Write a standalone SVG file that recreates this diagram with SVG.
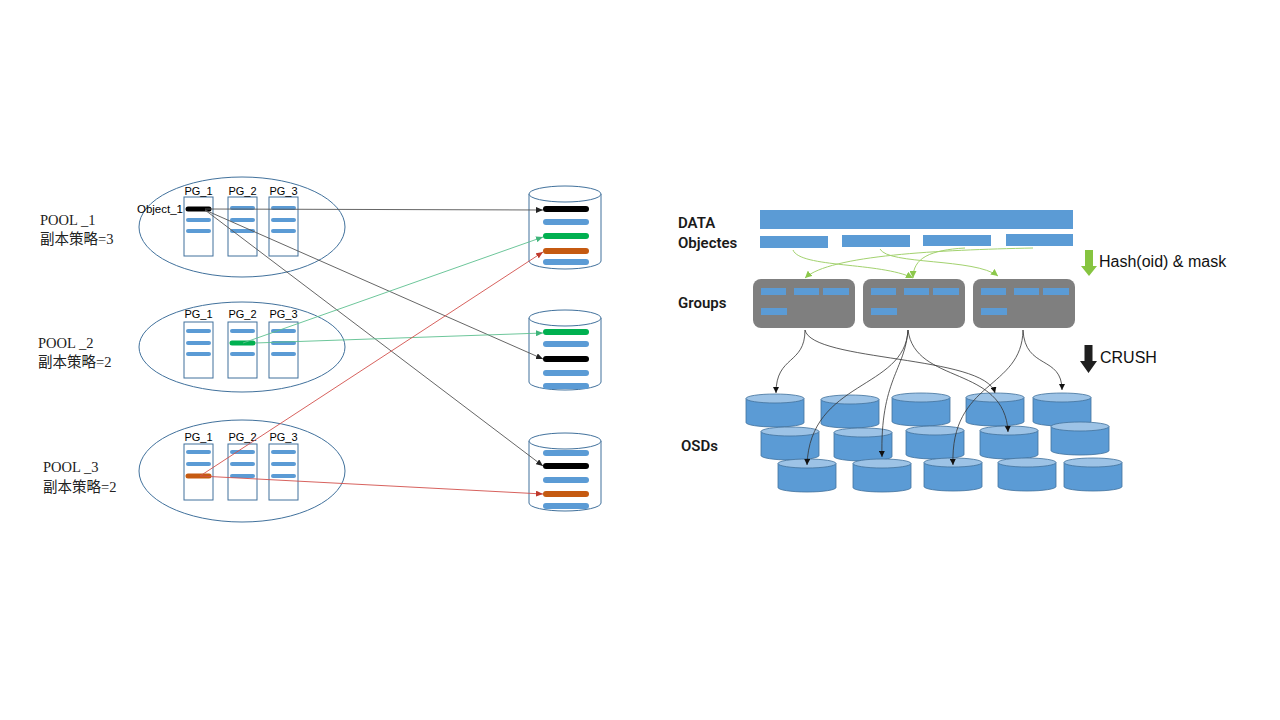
<svg xmlns="http://www.w3.org/2000/svg" width="1280" height="720" viewBox="0 0 1280 720">
<defs>
<style>
.pool{fill:none;stroke:#41719c;stroke-width:1}
.pg{fill:#fff;stroke:#41719c;stroke-width:1}
.bar{stroke:#5b9bd5;stroke-width:4;stroke-linecap:round}
.cbar{stroke:#5b9bd5;stroke-width:6;stroke-linecap:round}
.cyl{fill:#fff;stroke:#41719c;stroke-width:1}
.pglbl{font-family:"Liberation Sans",Arial,sans-serif;font-size:11px;fill:#000;text-anchor:middle}
.poollbl{font-family:"Liberation Serif","Noto Sans CJK SC",serif;font-size:14.5px;fill:#222}
.hd{font-family:Roboto,"Liberation Sans",sans-serif;font-size:15px;font-weight:600;fill:#1a1a1a}
.note{font-family:"Liberation Sans",Arial,sans-serif;font-size:16px;fill:#111}
.blk{fill:none;stroke:#555;stroke-width:0.9}
.grn{fill:none;stroke:#5cc08e;stroke-width:0.9}
.red{fill:none;stroke:#d2504c;stroke-width:0.9}
.hash{fill:none;stroke:#a3d26f;stroke-width:1}
.crush{fill:none;stroke:#333;stroke-width:0.8}
.dblue{fill:#5b9bd5}
.grp{fill:#7f7f7f}
.osdbody{fill:#5b9bd5;stroke:#41719c;stroke-width:0.8}
.osdtop{fill:#9dc3e6;stroke:#41719c;stroke-width:0.8}
</style>
<marker id="mBlk" markerUnits="userSpaceOnUse" markerWidth="8" markerHeight="6" refX="7" refY="3" orient="auto"><path d="M0,0 L7,3 L0,6 Z" fill="#222"/></marker>
<marker id="mGrn" markerUnits="userSpaceOnUse" markerWidth="8" markerHeight="6" refX="7" refY="3" orient="auto"><path d="M0,0 L7,3 L0,6 Z" fill="#3fb57a"/></marker>
<marker id="mRed" markerUnits="userSpaceOnUse" markerWidth="8" markerHeight="6" refX="7" refY="3" orient="auto"><path d="M0,0 L7,3 L0,6 Z" fill="#c0392b"/></marker>
<marker id="mHash" markerUnits="userSpaceOnUse" markerWidth="8" markerHeight="7" refX="7" refY="3.5" orient="auto"><path d="M0,0 L7,3.5 L0,7 Z" fill="#8cc84b"/></marker>
<marker id="mCrush" markerUnits="userSpaceOnUse" markerWidth="7" markerHeight="6" refX="6" refY="3" orient="auto"><path d="M0,0 L6,3 L0,6 Z" fill="#111"/></marker>
<g id="osd">
<path class="osdbody" d="M0,4.5 V28.5 A29,4.5 0 0 0 58,28.5 V4.5 Z"/>
<ellipse class="osdtop" cx="29" cy="4.5" rx="29" ry="4.5"/>
</g>
</defs>
<rect width="1280" height="720" fill="#fff"/>

<!-- Pool 1 -->
<g id="pool1">
<ellipse class="pool" cx="242" cy="227" rx="103" ry="50"/>
<text class="poollbl" x="40" y="225">POOL _1</text>
<text class="poollbl" x="40" y="244">副本策略=3</text>
<rect class="pg" x="184" y="197" width="29" height="59"/>
<rect class="pg" x="228" y="197" width="29" height="59"/>
<rect class="pg" x="269" y="197" width="29" height="59"/>
<text class="pglbl" x="198.5" y="195">PG_1</text>
<text class="pglbl" x="242.5" y="195">PG_2</text>
<text class="pglbl" x="283.5" y="195">PG_3</text>
<line x1="188" y1="209" x2="209" y2="209" stroke="#000" stroke-width="5" stroke-linecap="round"/>
<line class="bar" x1="188" y1="220" x2="209" y2="220"/>
<line class="bar" x1="188" y1="231" x2="209" y2="231"/>
<line class="bar" x1="232" y1="208" x2="253" y2="208"/>
<line class="bar" x1="232" y1="220" x2="253" y2="220"/>
<line class="bar" x1="232" y1="231" x2="253" y2="231"/>
<line class="bar" x1="273" y1="208" x2="294" y2="208"/>
<line class="bar" x1="273" y1="220" x2="294" y2="220"/>
<line class="bar" x1="273" y1="231" x2="294" y2="231"/>
<text x="183" y="212.5" text-anchor="end" font-family="Liberation Sans, Arial, sans-serif" font-size="11.5" fill="#000">Object_1</text>
</g>

<!-- Pool 2 -->
<g id="pool2">
<ellipse class="pool" cx="242" cy="347" rx="103" ry="45"/>
<text class="poollbl" x="38" y="348">POOL _2</text>
<text class="poollbl" x="38" y="367">副本策略=2</text>
<rect class="pg" x="184" y="322" width="29" height="56"/>
<rect class="pg" x="228" y="322" width="29" height="56"/>
<rect class="pg" x="269" y="322" width="29" height="56"/>
<text class="pglbl" x="198.5" y="318">PG_1</text>
<text class="pglbl" x="242.5" y="318">PG_2</text>
<text class="pglbl" x="283.5" y="318">PG_3</text>
<line class="bar" x1="188" y1="331" x2="209" y2="331"/>
<line class="bar" x1="188" y1="343" x2="209" y2="343"/>
<line class="bar" x1="188" y1="354" x2="209" y2="354"/>
<line class="bar" x1="232" y1="331" x2="253" y2="331"/>
<line x1="232" y1="343" x2="253" y2="343" stroke="#00b050" stroke-width="5" stroke-linecap="round"/>
<line class="bar" x1="232" y1="354" x2="253" y2="354"/>
<line class="bar" x1="273" y1="331" x2="294" y2="331"/>
<line class="bar" x1="273" y1="343" x2="294" y2="343"/>
<line class="bar" x1="273" y1="354" x2="294" y2="354"/>
</g>

<!-- Pool 3 -->
<g id="pool3">
<ellipse class="pool" cx="242" cy="471" rx="103" ry="51"/>
<text class="poollbl" x="43" y="472">POOL _3</text>
<text class="poollbl" x="43" y="492">副本策略=2</text>
<rect class="pg" x="184" y="444" width="29" height="56"/>
<rect class="pg" x="228" y="444" width="29" height="56"/>
<rect class="pg" x="269" y="444" width="29" height="56"/>
<text class="pglbl" x="198.5" y="441">PG_1</text>
<text class="pglbl" x="242.5" y="441">PG_2</text>
<text class="pglbl" x="283.5" y="441">PG_3</text>
<line class="bar" x1="188" y1="452" x2="209" y2="452"/>
<line class="bar" x1="188" y1="464" x2="209" y2="464"/>
<line x1="188" y1="476" x2="209" y2="476" stroke="#c55a11" stroke-width="5" stroke-linecap="round"/>
<line class="bar" x1="232" y1="452" x2="253" y2="452"/>
<line class="bar" x1="232" y1="464" x2="253" y2="464"/>
<line class="bar" x1="232" y1="476" x2="253" y2="476"/>
<line class="bar" x1="273" y1="452" x2="294" y2="452"/>
<line class="bar" x1="273" y1="464" x2="294" y2="464"/>
<line class="bar" x1="273" y1="476" x2="294" y2="476"/>
</g>

<!-- Storage cylinders -->
<g id="disk1">
<path class="cyl" d="M529,194 V261 A36,8 0 0 0 601,261 V194"/>
<ellipse class="cyl" cx="565" cy="194" rx="36" ry="8"/>
<line x1="546" y1="209" x2="586" y2="209" stroke="#000" stroke-width="6" stroke-linecap="round"/>
<line class="cbar" x1="546" y1="222" x2="586" y2="222"/>
<line x1="546" y1="236" x2="586" y2="236" stroke="#00b050" stroke-width="6" stroke-linecap="round"/>
<line x1="546" y1="251" x2="586" y2="251" stroke="#c55a11" stroke-width="6" stroke-linecap="round"/>
<line class="cbar" x1="546" y1="262" x2="586" y2="262"/>
</g>
<g id="disk2">
<path class="cyl" d="M529,318 V382 A36,8 0 0 0 601,382 V318"/>
<ellipse class="cyl" cx="565" cy="318" rx="36" ry="8"/>
<line x1="546" y1="332" x2="586" y2="332" stroke="#00b050" stroke-width="6" stroke-linecap="round"/>
<line class="cbar" x1="546" y1="344" x2="586" y2="344"/>
<line x1="546" y1="359" x2="586" y2="359" stroke="#000" stroke-width="6" stroke-linecap="round"/>
<line class="cbar" x1="546" y1="373" x2="586" y2="373"/>
<line class="cbar" x1="546" y1="386" x2="586" y2="386"/>
</g>
<g id="disk3">
<path class="cyl" d="M529,441 V503 A36,8 0 0 0 601,503 V441"/>
<ellipse class="cyl" cx="565" cy="441" rx="36" ry="8"/>
<line class="cbar" x1="546" y1="453" x2="586" y2="453"/>
<line x1="546" y1="466" x2="586" y2="466" stroke="#000" stroke-width="6" stroke-linecap="round"/>
<line class="cbar" x1="546" y1="480" x2="586" y2="480"/>
<line x1="546" y1="494" x2="586" y2="494" stroke="#c55a11" stroke-width="6" stroke-linecap="round"/>
<line class="cbar" x1="546" y1="506" x2="586" y2="506"/>
</g>

<!-- Left connectors -->
<g id="left-connectors">
<line class="blk" x1="205" y1="209" x2="543" y2="210" marker-end="url(#mBlk)"/>
<line class="blk" x1="205" y1="210" x2="543" y2="359" marker-end="url(#mBlk)"/>
<line class="blk" x1="205" y1="210" x2="543" y2="466" marker-end="url(#mBlk)"/>
<line class="grn" x1="243" y1="343" x2="543" y2="237" marker-end="url(#mGrn)"/>
<line class="grn" x1="255" y1="343" x2="543" y2="333" marker-end="url(#mGrn)"/>
<line class="red" x1="200" y1="476" x2="543" y2="252" marker-end="url(#mRed)"/>
<line class="red" x1="200" y1="476" x2="543" y2="494" marker-end="url(#mRed)"/>
</g>

<!-- Right side labels -->
<g id="labels">
<text class="hd" x="678" y="228">DATA</text>
<text class="hd" x="678" y="248">Objectes</text>
<text class="hd" x="678" y="308">Groups</text>
<text class="hd" x="681" y="451">OSDs</text>
</g>

<g id="data">
<rect class="dblue" x="760" y="210" width="313" height="19"/>
</g>
<g id="objects">
<rect class="dblue" x="760" y="236" width="68" height="12"/>
<rect class="dblue" x="842" y="235" width="68" height="12"/>
<rect class="dblue" x="923" y="235" width="68" height="11"/>
<rect class="dblue" x="1006" y="234" width="67" height="12"/>
</g>

<g id="group1">
<rect class="grp" x="753" y="279" width="102" height="49" rx="8"/>
<rect class="dblue" x="761" y="288" width="25" height="7"/>
<rect class="dblue" x="794" y="288" width="25" height="7"/>
<rect class="dblue" x="823" y="288" width="26" height="7"/>
<rect class="dblue" x="761" y="308" width="26" height="7"/>
</g>
<g id="group2">
<rect class="grp" x="863" y="279" width="102" height="49" rx="8"/>
<rect class="dblue" x="871" y="288" width="25" height="7"/>
<rect class="dblue" x="904" y="288" width="25" height="7"/>
<rect class="dblue" x="933" y="288" width="26" height="7"/>
<rect class="dblue" x="871" y="308" width="26" height="7"/>
</g>
<g id="group3">
<rect class="grp" x="973" y="279" width="102" height="49" rx="8"/>
<rect class="dblue" x="981" y="288" width="25" height="7"/>
<rect class="dblue" x="1014" y="288" width="25" height="7"/>
<rect class="dblue" x="1043" y="288" width="26" height="7"/>
<rect class="dblue" x="981" y="308" width="26" height="7"/>
</g>

<g id="hash-step">
<polygon points="1085,250 1093,250 1093,266 1097,266 1089,276 1081,266 1085,266" fill="#86c440"/>
<text class="note" x="1099" y="267">Hash(oid) &amp; mask</text>
</g>
<g id="crush-step">
<polygon points="1084.5,345 1092.5,345 1092.5,361 1097,361 1088.5,373 1080,361 1084.5,361" fill="#1f1f1f"/>
<text class="note" x="1100" y="363">CRUSH</text>
</g>

<!-- OSDs -->
<g id="osd-r1-1"><use href="#osd" x="746" y="394"/></g>
<g id="osd-r1-2"><use href="#osd" x="821" y="395"/></g>
<g id="osd-r1-3"><use href="#osd" x="892" y="393"/></g>
<g id="osd-r1-4"><use href="#osd" x="966" y="393"/></g>
<g id="osd-r1-5"><use href="#osd" x="1033" y="393"/></g>
<g id="osd-r2-1"><use href="#osd" x="761" y="427"/></g>
<g id="osd-r2-2"><use href="#osd" x="834" y="428"/></g>
<g id="osd-r2-3"><use href="#osd" x="906" y="426"/></g>
<g id="osd-r2-4"><use href="#osd" x="980" y="426"/></g>
<g id="osd-r2-5"><use href="#osd" x="1051" y="422"/></g>
<g id="osd-r3-1"><use href="#osd" x="778" y="459"/></g>
<g id="osd-r3-2"><use href="#osd" x="853" y="459"/></g>
<g id="osd-r3-3"><use href="#osd" x="924" y="458"/></g>
<g id="osd-r3-4"><use href="#osd" x="998" y="458"/></g>
<g id="osd-r3-5"><use href="#osd" x="1064" y="458"/></g>

<!-- Right connectors -->
<g id="right-connectors">
<path class="hash" d="M793,250 C800,268 880,262 913,278" marker-end="url(#mHash)"/>
<path class="hash" d="M880,249 C888,265 975,258 998,276" marker-end="url(#mHash)"/>
<path class="hash" d="M1033,248 C940,250 830,255 805,278" marker-end="url(#mHash)"/>
<path class="hash" d="M965,248 C930,250 913,258 913,278" marker-end="url(#mHash)"/>
<path class="crush" d="M805,330 C805,365 776,355 776,393" marker-end="url(#mCrush)"/>
<path class="crush" d="M805,330 C812,362 985,355 995,393" marker-end="url(#mCrush)"/>
<path class="crush" d="M908,330 C905,390 810,380 807,465" marker-end="url(#mCrush)"/>
<path class="crush" d="M908,330 C905,370 880,380 882,457" marker-end="url(#mCrush)"/>
<path class="crush" d="M908,330 C915,385 1005,365 1008,432" marker-end="url(#mCrush)"/>
<path class="crush" d="M1023,330 C1025,370 1062,355 1062,390" marker-end="url(#mCrush)"/>
<path class="crush" d="M1023,330 C1022,390 950,380 953,465" marker-end="url(#mCrush)"/>
</g>
</svg>
